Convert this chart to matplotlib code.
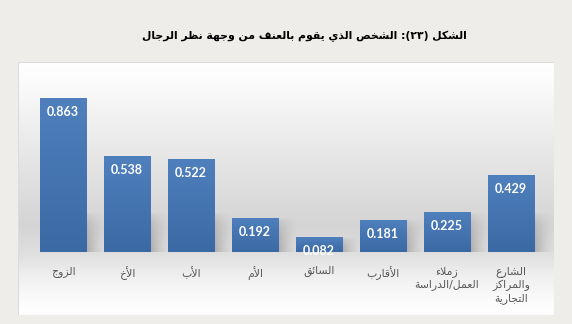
import numpy as np
import matplotlib
matplotlib.use('Agg')
import matplotlib.pyplot as plt
from matplotlib.colors import LinearSegmentedColormap

# data
title = 'الشكل (٢٣): الشخص الذي يقوم بالعنف من وجهة نظر الرجال'
categories = ['الزوج', 'الأخ', 'الأب', 'الأم', 'السائق', 'الأقارب',
              'زملاء\nالعمل/الدراسة', 'الشارع\nوالمراكز\nالتجارية']
values = [0.863, 0.538, 0.522, 0.192, 0.082, 0.181, 0.225, 0.429]

# --- minimal arabic shaping (matplotlib has no shaping / bidi) ---
FORMS = {
    'ء': ('\uFE80',),
    'ا': ('\uFE8D', '\uFE8E'), 'أ': ('\uFE83', '\uFE84'),
    'ئ': ('\uFE89', '\uFE8A', '\uFE8B', '\uFE8C'),
    'ب': ('\uFE8F', '\uFE90', '\uFE91', '\uFE92'),
    'ة': ('\uFE93', '\uFE94'),
    'ت': ('\uFE95', '\uFE96', '\uFE97', '\uFE98'),
    'ج': ('\uFE9D', '\uFE9E', '\uFE9F', '\uFEA0'),
    'خ': ('\uFEA5', '\uFEA6', '\uFEA7', '\uFEA8'),
    'د': ('\uFEA9', '\uFEAA'), 'ذ': ('\uFEAB', '\uFEAC'),
    'ر': ('\uFEAD', '\uFEAE'), 'ز': ('\uFEAF', '\uFEB0'),
    'س': ('\uFEB1', '\uFEB2', '\uFEB3', '\uFEB4'),
    'ش': ('\uFEB5', '\uFEB6', '\uFEB7', '\uFEB8'),
    'ص': ('\uFEB9', '\uFEBA', '\uFEBB', '\uFEBC'),
    'ظ': ('\uFEC5', '\uFEC6', '\uFEC7', '\uFEC8'),
    'ع': ('\uFEC9', '\uFECA', '\uFECB', '\uFECC'),
    'ف': ('\uFED1', '\uFED2', '\uFED3', '\uFED4'),
    'ق': ('\uFED5', '\uFED6', '\uFED7', '\uFED8'),
    'ك': ('\uFED9', '\uFEDA', '\uFEDB', '\uFEDC'),
    'ل': ('\uFEDD', '\uFEDE', '\uFEDF', '\uFEE0'),
    'م': ('\uFEE1', '\uFEE2', '\uFEE3', '\uFEE4'),
    'ن': ('\uFEE5', '\uFEE6', '\uFEE7', '\uFEE8'),
    'ه': ('\uFEE9', '\uFEEA', '\uFEEB', '\uFEEC'),
    'و': ('\uFEED', '\uFEEE'),
    'ي': ('\uFEF1', '\uFEF2', '\uFEF3', '\uFEF4'),
}
LAMALEF = {'ا': ('\uFEFB', '\uFEFC'), 'أ': ('\uFEF7', '\uFEF8')}
DIGITS = set('0123456789٠١٢٣٤٥٦٧٨٩')
MIRROR = {'(': ')', ')': '('}


def dual(c):
    return c in FORMS and len(FORMS[c]) == 4


def shape_line(s):
    out = []
    i = 0
    while i < len(s):
        c = s[i]
        prev_conn = i > 0 and dual(s[i - 1])
        if c == 'ل' and i + 1 < len(s) and s[i + 1] in LAMALEF:
            out.append(LAMALEF[s[i + 1]][1 if prev_conn else 0])
            i += 2
            continue
        if c not in FORMS:
            out.append(c)
            i += 1
            continue
        f = FORMS[c]
        nxt = s[i + 1] if i + 1 < len(s) else ''
        next_conn = dual(c) and nxt in FORMS and nxt != 'ء'
        if len(f) == 1:
            out.append(f[0])
        elif len(f) == 2:
            out.append(f[1] if prev_conn else f[0])
        else:
            if prev_conn and next_conn:
                out.append(f[3])
            elif prev_conn:
                out.append(f[1])
            elif next_conn:
                out.append(f[2])
            else:
                out.append(f[0])
        i += 1
    vis = [MIRROR.get(c, c) for c in reversed(out)]
    # keep digit runs left-to-right
    res, run = [], []
    for c in vis:
        if c in DIGITS:
            run.append(c)
        else:
            res.extend(reversed(run))
            run = []
            res.append(c)
    res.extend(reversed(run))
    return ''.join(res)


def ar(s):
    return '\n'.join(shape_line(l) for l in s.split('\n'))


fig = plt.figure(figsize=(5.72, 3.24), dpi=100)
fig.patch.set_facecolor('#eeede9')
ax = fig.add_axes([18 / 572, 9 / 324, 536 / 572, 253 / 324])
x0, x1 = -0.703, 7.672
y0, y1 = -0.353, 1.065

# panel background (white with grey "floor" band)
stops = [(0.0, 255), (0.07, 252), (0.38, 230), (0.65, 212), (0.75, 222),
         (0.85, 240), (0.95, 252), (1.0, 255)]
t = np.linspace(0, 1, 256)
g = np.interp(t, [s[0] for s in stops], [s[1] for s in stops]) / 255
bg = np.stack([g, g, g], axis=-1)[:, None, :].repeat(2, axis=1)
ax.imshow(bg, extent=(x0, x1, y0, y1), aspect='auto', zorder=0)

xs = np.arange(len(values))
width = 0.72

# soft shadows to the right of the bars
for xi, v in zip(xs, values):
    sh_h = min(v, 0.22)
    u = np.linspace(0, 1, 40)[None, :]
    w = np.linspace(0, 1, 40)[:, None]
    alpha = 0.45 * (1 - u) ** 1.6 * (w ** 0.6) * (1 - w * 0.15)
    img = np.zeros((40, 40, 4))
    img[..., :3] = 0.35
    img[..., 3] = alpha
    ax.imshow(img, extent=(xi + width / 2, xi + width / 2 + 0.32, 0, sh_h),
              aspect='auto', zorder=1)

bars = ax.bar(xs, values, width=width, color='none', zorder=3)
cmap = LinearSegmentedColormap.from_list('b', ['#3b69a4', '#4f80bd'])
grad = np.linspace(0, 1, 100)[:, None]
for b in bars:
    im = ax.imshow(grad, extent=(b.get_x(), b.get_x() + b.get_width(), 0, b.get_height()),
                   origin='lower', cmap=cmap, aspect='auto', zorder=2)
    im.set_clip_path(b)

for xi, v in zip(xs, values):
    ax.annotate(f'{v:.3f}', (xi, v), xytext=(0, -14), textcoords='offset pixels',
                ha='center', va='center', color='white', fontsize=9,
                fontweight='bold', family='Lato', zorder=5)

for xi, c in zip(xs, categories):
    ax.annotate(ar(c), (xi, 0), xytext=(0, -14), textcoords='offset pixels',
                ha='center', va='top', color='#595959', fontsize=7.8,
                family='DejaVu Sans', linespacing=1.3, multialignment='center')

ax.set_xlim(x0, x1)
ax.set_ylim(y0, y1)
ax.axis('off')
ax.add_patch(plt.Rectangle((0, 0), 1, 1, transform=ax.transAxes, fill=False,
                           edgecolor='#dcdcdc', lw=0.8, zorder=6))

fig.text(304 / 572, 1 - 36 / 324, ar(title), ha='center', va='center',
         fontsize=7.8, fontweight='bold', family='DejaVu Sans', color='black')

fig.savefig('out.png', dpi=100, facecolor=fig.get_facecolor())
